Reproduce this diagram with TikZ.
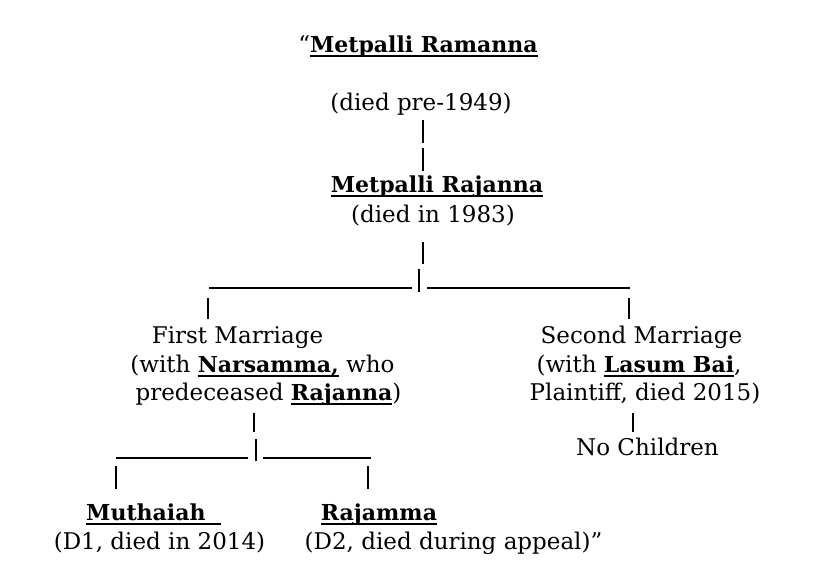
\documentclass[tikz,border=0pt]{standalone}
\usepackage{fontspec}
\setmainfont{DejaVu Serif}
\newsavebox\nmbox
% bold name with a heavy underline, as in the typed original
\newcommand\nm[1]{\sbox\nmbox{\fontsize{22}{28}\selectfont\bfseries #1}\rlap{\rule[-4.5pt]{\wd\nmbox}{2pt}}\usebox\nmbox}

\begin{document}
\begin{tikzpicture}[x=1pt,y=-1pt,
    txt/.style={anchor=base,inner sep=0pt,font=\fontsize{23}{28}\selectfont},
    bar/.style={line width=1.8pt},
    rule/.style={line width=1.4pt}]
\useasboundingbox (0,0) rectangle (835,585);

% first generation
\node [txt] (ramanna) at (418,53) {``\nm{Metpalli Ramanna}};
\node [txt] (ramdied) at (421,111) {(died pre-1949)};
\node [txt] (rajanna) at (437,193) {\nm{Metpalli Rajanna}};
\node [txt] (rajdied) at (433,223) {(died in 1983)};

% the two marriages
\node [txt] (first)  at (237.5,343) {First Marriage};
\node [txt] (firstb) at (262.5,372) {(with \nm{Narsamma,} who};
\node [txt] (firstc) at (268.5,400) {predeceased \nm{Rajanna})};
\node [txt] (second)  at (641.5,343) {Second Marriage};
\node [txt] (secondb) at (639,372) {(with \nm{Lasum Bai},};
\node [txt] (secondc) at (645,400) {Plaintiff, died 2015)};
\node [txt] (nochild) at (647.5,455) {No Children};

% children
\node [txt] (muthaiah) at (153.5,520) {\nm{Muthaiah\ \ }};
\node [txt] (mutdied)  at (159.5,549) {(D1, died in 2014)};
\node [txt] (rajamma)  at (379,520) {\nm{Rajamma}};
\node [txt] (rjmdied)  at (453.5,549) {(D2, died during appeal)''};

% vertical bars
\foreach \x/\ya/\yb in {423/120/143, 423/148/171, 423/242/264, 419/269/292,
                        208/298/319, 629/298/319, 254/413/432, 633/413/432,
                        256/439/461, 116/466/489, 368/466/489}
    \draw [bar] (\x,\ya) -- (\x,\yb);

% underscores
\foreach \xa/\xb/\y in {209/412/288, 427/630/288, 116/248/458, 263/371/458}
    \draw [rule] (\xa,\y) -- (\xb,\y);

\end{tikzpicture}
\end{document}
